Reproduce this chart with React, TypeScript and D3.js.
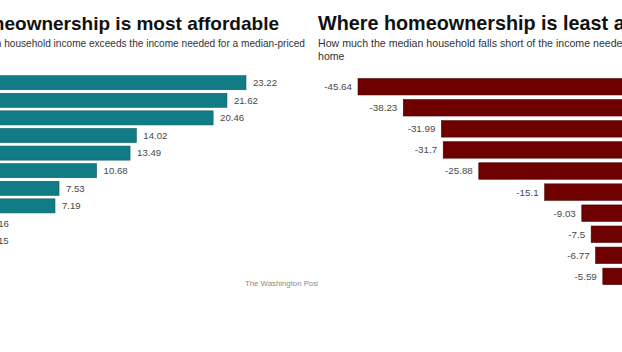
import * as d3 from 'd3'

// values (city names are cropped out of the reference)
const affordableValues = [23.22, 21.62, 20.46, 14.02, 13.49, 10.68, 7.53, 7.19, 1.16, 1.15]
const leastValues = [-45.64, -38.23, -31.99, -31.7, -25.88, -15.1, -9.03, -7.5, -6.77, -5.59]

const W = 622
const H = 352
const FONT = '"Liberation Sans", Arial, Helvetica, sans-serif'
const TEAL = '#127c86'
const RED = '#6e0000'

const fmt = (v: number) => String(v)

export default function App() {
  // left panel — its origin sits off-screen to the left
  const xL = d3.scaleLinear().domain([0, 23.22]).range([-30.7, 246])
  const yL = d3.scaleBand<number>().domain(d3.range(affordableValues.length)).range([73.9, 249.9]).paddingInner(0.2).paddingOuter(0.1)

  // right panel — its zero line is off-screen to the right
  const xR = d3.scaleLinear().domain([-45.64, 0]).range([358, 637])
  const yR = d3.scaleBand<number>().domain(d3.range(leastValues.length)).range([76.2, 286.9]).paddingInner(0.22).paddingOuter(0.11)

  return (
    <svg width={W} height={H} style={{ position: 'fixed', left: 0, top: 0, background: '#fff', fontFamily: FONT }}>
      <defs>
        <clipPath id="clipL"><rect x={-200} y={0} width={518} height={H} /></clipPath>
      </defs>

      {/* ── left: most affordable ── */}
      <g clipPath="url(#clipL)">
        <text x={279} y={30} textAnchor="end" fontSize={19} fontWeight={700} fill="#111">Where homeownership is most affordable</text>
        <text x={305} y={47} textAnchor="end" fontSize={10.1} fill="#333">How much the median household income exceeds the income needed for a median-priced</text>
        <text x={-90} y={60} fontSize={10.1} fill="#333">home</text>
        {affordableValues.map((v, i) => (
          <g key={i}>
            <rect x={xL(0)} y={yL(i)} width={xL(v) - xL(0)} height={yL.bandwidth()} fill={TEAL} stroke="#0b5f66" strokeWidth={0.6} />
            <text x={xL(v) + 7} y={yL(i)! + yL.bandwidth() / 2} dy="0.35em" fontSize={9.6} fill="#484848">{fmt(v)}</text>
          </g>
        ))}
        <text x={245} y={286} fontSize={7.8} fill="#8a8a8a">The Washington Post</text>
      </g>

      {/* ── right: least affordable ── */}
      <g>
        <text x={318} y={30} fontSize={19.8} fontWeight={700} fill="#111">Where homeownership is least affordable</text>
        <text x={318} y={47} fontSize={10.6} fill="#333">How much the median household falls short of the income needed for a median-priced</text>
        <text x={318} y={60} fontSize={10.6} fill="#333">home</text>
        {leastValues.map((v, i) => (
          <g key={i}>
            <rect x={xR(v)} y={yR(i)} width={xR(0) - xR(v)} height={yR.bandwidth()} fill={RED} stroke="#4a0000" strokeWidth={0.6} />
            <text x={xR(v) - 6} y={yR(i)! + yR.bandwidth() / 2} dy="0.35em" textAnchor="end" fontSize={9.8} fill="#484848">{fmt(v)}</text>
          </g>
        ))}
      </g>
    </svg>
  )
}
